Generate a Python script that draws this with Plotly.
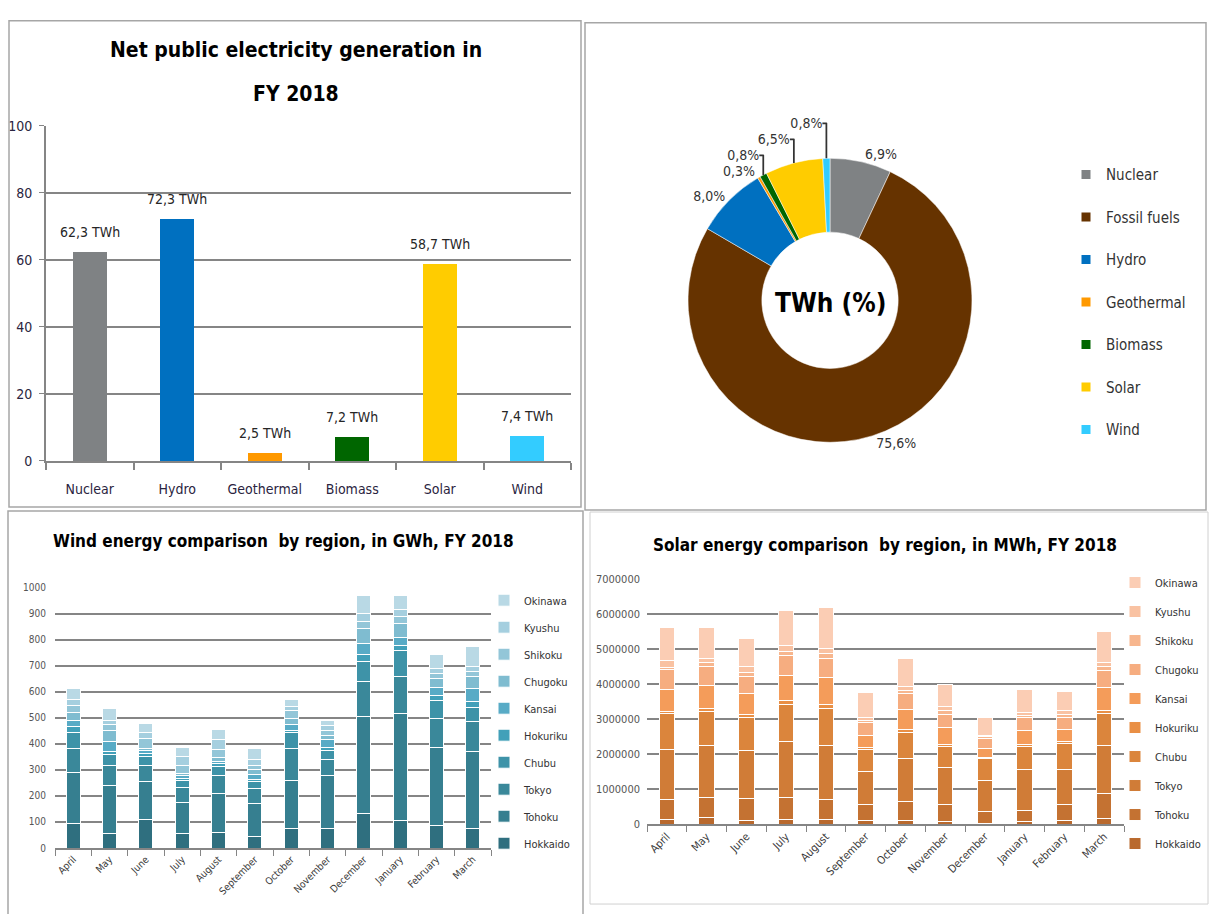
import plotly.graph_objects as go

W, H = 1210, 914


def px(x):
    return x / W


def py(y):
    return 1 - y / H


# ---------------- data ----------------
gen_categories = ["Nuclear", "Hydro", "Geothermal", "Biomass", "Solar", "Wind"]
gen_twh = [62.3, 72.3, 2.5, 7.2, 58.7, 7.4]
gen_colors = ["#7f8284", "#0070c0", "#ff9900", "#006600", "#ffcc00", "#33ccff"]

share_labels = ["Nuclear", "Fossil fuels", "Hydro", "Geothermal", "Biomass", "Solar", "Wind"]
share_pct = [6.9, 75.6, 8.0, 0.3, 0.8, 6.5, 0.8]
share_colors = ["#7f8284", "#663300", "#0070c0", "#ff9900", "#006600", "#ffcc00", "#33ccff"]

months = ["April", "May", "June", "July", "August", "September", "October",
          "November", "December", "January", "February", "March"]
regions = ["Hokkaido", "Tohoku", "Tokyo", "Chubu", "Hokuriku", "Kansai",
           "Chugoku", "Shikoku", "Kyushu", "Okinawa"]

# Wind, GWh
wind_hokkaido = [94, 57, 109, 57, 59, 44, 75, 75, 132, 107, 88, 75]
wind_tohoku = [195, 182, 146, 119, 152, 126, 183, 202, 375, 409, 299, 296]
wind_tokyo = [95, 78, 62, 57, 68, 60, 126, 63, 131, 144, 110, 116]
wind_chubu = [60, 41, 35, 25, 35, 25, 59, 34, 79, 98, 69, 54]
wind_hokuriku = [21, 13, 13, 10, 11, 9, 10, 12, 25, 20, 20, 21]
wind_kansai = [23, 38, 10, 9, 8, 19, 22, 29, 44, 31, 30, 51]
wind_chugoku = [34, 44, 9, 9, 15, 20, 24, 16, 57, 53, 34, 45]
wind_shikoku = [25, 20, 37, 32, 29, 15, 29, 19, 28, 28, 19, 20]
wind_kyushu = [22, 18, 23, 34, 38, 22, 15, 19, 28, 28, 20, 20]
wind_okinawa = [44, 44, 34, 34, 42, 41, 26, 22, 70, 51, 53, 76]

# Solar, MWh
solar_hokkaido = [140000, 190000, 110000, 140000, 120000, 110000, 110000, 70000, 30000, 70000, 110000, 160000]
solar_tohoku = [560000, 580000, 620000, 630000, 580000, 450000, 530000, 490000, 340000, 320000, 450000, 720000]
solar_tokyo = [1450000, 1480000, 1380000, 1590000, 1550000, 960000, 1230000, 1050000, 870000, 1180000, 1010000, 1370000]
solar_chubu = [1030000, 980000, 930000, 1060000, 1070000, 630000, 750000, 620000, 630000, 660000, 740000, 910000]
solar_hokuriku = [50000, 70000, 100000, 120000, 100000, 50000, 80000, 50000, 40000, 50000, 50000, 90000]
solar_kansai = [630000, 680000, 610000, 720000, 770000, 350000, 580000, 480000, 260000, 390000, 360000, 660000]
solar_chugoku = [560000, 530000, 480000, 560000, 540000, 350000, 470000, 380000, 280000, 370000, 340000, 490000]
solar_shikoku = [60000, 120000, 120000, 130000, 150000, 70000, 80000, 100000, 50000, 80000, 90000, 100000]
solar_kyushu = [200000, 100000, 160000, 150000, 160000, 70000, 100000, 130000, 50000, 80000, 100000, 130000]
solar_okinawa = [960000, 910000, 800000, 1010000, 1160000, 720000, 800000, 630000, 490000, 660000, 560000, 870000]

wind_series = [wind_hokkaido, wind_tohoku, wind_tokyo, wind_chubu, wind_hokuriku,
               wind_kansai, wind_chugoku, wind_shikoku, wind_kyushu, wind_okinawa]
solar_series = [solar_hokkaido, solar_tohoku, solar_tokyo, solar_chubu, solar_hokuriku,
                solar_kansai, solar_chugoku, solar_shikoku, solar_kyushu, solar_okinawa]

wind_colors = ["#2f6f7f", "#367f90", "#3a889a", "#3e93a8", "#42a0b9",
               "#58abc6", "#7fbcd0", "#93c6d8", "#a5cfdf", "#b9d9e5"]
solar_colors = ["#b9692d", "#c47232", "#d07c37", "#db853c", "#e98f45",
                "#f49c5a", "#f6ad80", "#f7b68e", "#f9c2a2", "#fbcdb4"]

# ---------------- style ----------------
NARROW = "Liberation Sans Narrow, DejaVu Sans Condensed, sans-serif"
GRID = "#858585"
TXT = "#262626"

fig = go.Figure()

# Top-left bar chart
fig.add_trace(go.Bar(
    x=gen_categories, y=gen_twh, marker=dict(color=gen_colors, line=dict(width=0)),
    showlegend=False, xaxis="x", yaxis="y", hoverinfo="skip"))

# Legend entries for the doughnut (one per slice)
for lab, col in zip(share_labels, share_colors):
    fig.add_trace(go.Scatter(
        x=[None], y=[None], mode="markers", name=lab,
        marker=dict(symbol="square", size=9, color=col),
        legend="legend", legendgroup="pie_" + lab, xaxis="x", yaxis="y",
        hoverinfo="skip"))

# Doughnut
fig.add_trace(go.Pie(
    labels=share_labels, values=share_pct,
    text=[f"{v:.1f}".replace(".", ",") + "%" for v in share_pct],
    textinfo="text", textposition="outside", hole=0.48, sort=False,
    direction="clockwise", rotation=0,
    marker=dict(colors=share_colors, line=dict(color="white", width=0.5)),
    domain=dict(x=[px(688), px(972)], y=[py(445), py(150)]),
    textfont=dict(size=14, color="#333333", family=NARROW),
    showlegend=False, hoverinfo="skip"))

# Wind stacked bars (legend: Okinawa on top, Hokkaido at bottom)
for i, (reg, vals, col) in enumerate(zip(regions, wind_series, wind_colors)):
    fig.add_trace(go.Bar(
        x=months, y=vals, name=reg,
        marker=dict(color=col, line=dict(color="white", width=1)),
        xaxis="x2", yaxis="y2", legend="legend2", legendgroup="w_" + reg,
        legendrank=100 - i, hoverinfo="skip"))

# Solar stacked bars
for i, (reg, vals, col) in enumerate(zip(regions, solar_series, solar_colors)):
    fig.add_trace(go.Bar(
        x=months, y=vals, name=reg,
        marker=dict(color=col, line=dict(color="white", width=1)),
        xaxis="x3", yaxis="y3", legend="legend3", legendgroup="s_" + reg,
        legendrank=100 - i, hoverinfo="skip"))


def ptext(x, y, text, size):
    return dict(x=px(x), y=py(y), xref="paper", yref="paper", showarrow=False,
                xanchor="center", yanchor="middle", text=text,
                font=dict(size=size, family=NARROW, color="#000000"))


annotations = [
    ptext(296, 43, "<b>Net public electricity generation in</b>", 21),
    ptext(296, 88, "<b>FY 2018</b>", 21),
    ptext(830, 300, "<b>TWh (%)</b>", 26),
    ptext(283, 543, "<b>Wind energy comparison  by region, in GWh, FY 2018</b>", 17),
    ptext(885, 547, "<b>Solar energy comparison  by region, in MWh, FY 2018</b>", 17),
]
for c, v in zip(gen_categories, gen_twh):
    annotations.append(dict(
        x=c, y=v, xref="x", yref="y", showarrow=False, yshift=20,
        xanchor="center", yanchor="middle",
        text=f"{v:.1f}".replace(".", ",") + " TWh",
        font=dict(size=14, family=NARROW, color=TXT)))

BORDER = "#a6a6a6"
shapes = [
    dict(type="rect", xref="paper", yref="paper", x0=px(9), x1=px(581), y0=py(508), y1=py(13),
         line=dict(color=BORDER, width=1.5)),
    dict(type="rect", xref="paper", yref="paper", x0=px(585), x1=px(1206), y0=py(511), y1=py(15),
         line=dict(color=BORDER, width=1.5)),
    dict(type="rect", xref="paper", yref="paper", x0=px(8), x1=px(583), y0=py(930), y1=py(512),
         line=dict(color=BORDER, width=1.5)),
    dict(type="rect", xref="paper", yref="paper", x0=px(590), x1=px(1208), y0=py(912), y1=py(513),
         line=dict(color="#d0d0d0", width=1)),
]

fig.update_layout(
    width=W, height=H, margin=dict(l=0, r=0, t=0, b=0),
    barmode="stack", bargap=0.61,
    paper_bgcolor="white", plot_bgcolor="white",
    font=dict(family=NARROW, color=TXT),
    annotations=annotations, shapes=shapes,
    xaxis=dict(domain=[px(46), px(571)], anchor="y", showline=True, linecolor=GRID,
               linewidth=2, ticks="outside", tickson="boundaries", ticklen=7,
               tickcolor=GRID, tickwidth=1.5, tickfont=dict(size=14, color="#2a2440"),
               ticklabelstandoff=14),
    yaxis=dict(domain=[py(461), py(120)], anchor="x", range=[0, 100], dtick=20,
               showgrid=True, gridcolor=GRID, gridwidth=2, showline=True,
               linecolor=GRID, linewidth=2, ticks="outside", ticklen=5,
               tickcolor=GRID, tickfont=dict(size=14, color="#2a2440"), zeroline=False,
               ticklabelstandoff=4),
    xaxis2=dict(domain=[px(55), px(491)], anchor="y2", showline=True, linecolor=GRID,
                linewidth=1.5, ticks="outside", tickson="boundaries", ticklen=6,
                tickcolor=GRID, tickangle=-45, tickfont=dict(size=10, color="#3a3a3a")),
    yaxis2=dict(domain=[py(855), py(590)], anchor="x2", range=[0, 1000], dtick=100,
                showgrid=True, gridcolor=GRID, gridwidth=2, zeroline=False,
                tickfont=dict(size=10, color="#555555"), ticklabelstandoff=8),
    xaxis3=dict(domain=[px(647), px(1124)], anchor="y3", showline=True, linecolor=GRID,
                linewidth=1.5, ticks="outside", tickson="boundaries", ticklen=6,
                tickcolor=GRID, tickangle=-45, tickfont=dict(size=11, color="#3a3a3a")),
    yaxis3=dict(domain=[py(830.7), py(581.7)], anchor="x3", range=[0, 7000000],
                dtick=1000000, tickformat="d", showgrid=True, gridcolor=GRID,
                gridwidth=2, zeroline=False, tickfont=dict(size=11, color="#555555"),
                ticklabelstandoff=6),
    legend=dict(x=px(1066), y=py(153), xanchor="left", yanchor="top",
                traceorder="grouped", tracegroupgap=20,
                font=dict(size=15, family=NARROW, color="#333333"),
                bgcolor="rgba(0,0,0,0)"),
    legend2=dict(x=px(484), y=py(588), xanchor="left", yanchor="top",
                 traceorder="grouped", tracegroupgap=8,
                 font=dict(size=11, family=NARROW, color="#333333"),
                 bgcolor="rgba(0,0,0,0)"),
    legend3=dict(x=px(1115), y=py(570), xanchor="left", yanchor="top",
                 traceorder="grouped", tracegroupgap=10,
                 font=dict(size=11, family=NARROW, color="#333333"),
                 bgcolor="rgba(0,0,0,0)"),
)

fig.write_html("out.html", config={"displayModeBar": False},
               post_script="document.body.style.margin='0px';")
